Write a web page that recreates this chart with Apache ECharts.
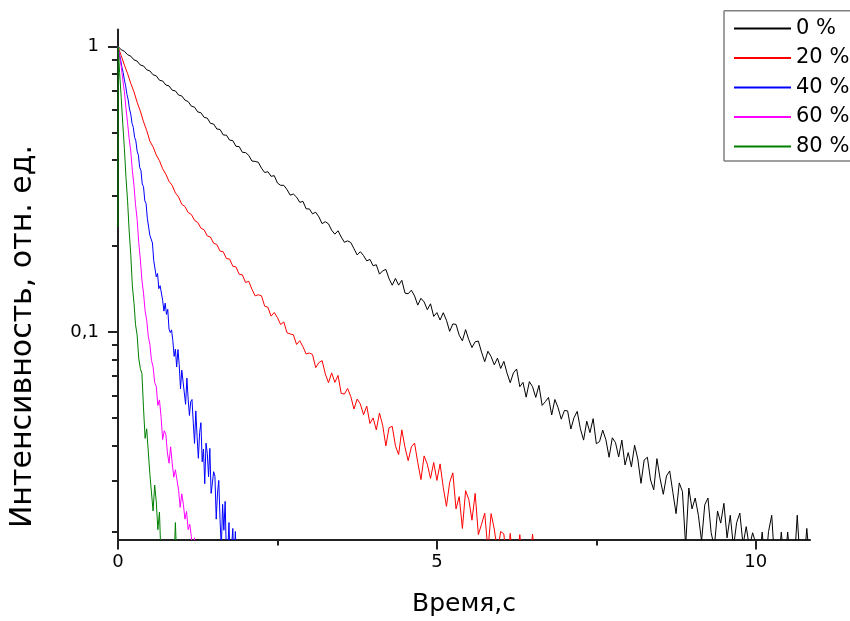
<!DOCTYPE html>
<html>
<head>
<meta charset="utf-8">
<script src="https://cdn.jsdelivr.net/npm/echarts@6/dist/echarts.min.js"></script>
<style>
html,body{margin:0;padding:0;background:#ffffff;}
#chart{width:850px;height:621px;}
</style>
</head>
<body>
<div id="chart"></div>
<script>
// ---- chart data ----
const seriesNames = ['0 %', '20 %', '40 %', '60 %', '80 %'];
const seriesColors = ['#000000', '#ff0000', '#0000ff', '#ff00ff', '#008000'];
const xAxisTitle = 'Время,с';
const yAxisTitle = 'Интенсивность, отн. ед.';
const xTickValues = [0, 5, 10];
const xMinorTicks = [2.5, 7.5];
const yTickValues = [0.1, 1];
const yTickLabels = ['0,1', '1'];
const yMinorTicks = [0.02, 0.03, 0.04, 0.05, 0.06, 0.07, 0.08, 0.09, 0.2, 0.3, 0.4, 0.5, 0.6, 0.7, 0.8, 0.9];

// time step of each sampled curve (s)
const step0 = 0.05, step20 = 0.05, step40 = 0.02, step60 = 0.025, step80 = 0.025;
const start80 = 0.025;

// 0 %  (t = 0 ... 10.85, step 0.05)
const curve0 = [
 1.000, 0.975, 0.962, 0.936, 0.925, 0.898, 0.889, 0.861, 0.855, 0.829, 0.821, 0.796, 0.789, 0.762, 0.757, 0.733, 0.728, 0.703, 0.699, 0.676, 0.671,
 0.649, 0.641, 0.618, 0.613, 0.590, 0.586, 0.565, 0.561, 0.538, 0.535, 0.514, 0.512, 0.490, 0.489, 0.470, 0.468, 0.447, 0.446, 0.426, 0.425,
 0.4157, 0.3970, 0.3958, 0.3930, 0.3747, 0.3618, 0.3643, 0.3510, 0.3528, 0.3325, 0.3265, 0.3263, 0.3155, 0.3015, 0.3042, 0.2968, 0.2845, 0.2867, 0.2700, 0.2698,
 0.2593, 0.2627, 0.2530, 0.2396, 0.2434, 0.2392, 0.2272, 0.2201, 0.2262, 0.2150, 0.2062, 0.2085, 0.2058, 0.1958, 0.1862, 0.1910, 0.1851, 0.1775, 0.1795, 0.1706,
 0.1720, 0.1594, 0.1637, 0.1656, 0.1536, 0.1458, 0.1540, 0.1459, 0.1517, 0.1368, 0.1361, 0.1401, 0.1337, 0.1242, 0.1312, 0.1274, 0.1197, 0.1255, 0.1134, 0.1169,
 0.1101, 0.1168, 0.1099, 0.1005, 0.1067, 0.1063, 0.0974, 0.0931, 0.1019, 0.0939, 0.0882, 0.0924, 0.0929, 0.0850, 0.0787, 0.0856, 0.0820, 0.0767, 0.0810, 0.0745,
 0.0789, 0.0717, 0.0664, 0.0719, 0.0742, 0.0643, 0.0666, 0.0591, 0.0670, 0.0643, 0.0590, 0.0650, 0.0553, 0.0570, 0.0590, 0.0512, 0.0580, 0.0543, 0.0495, 0.0531,
 0.0529, 0.0457, 0.0501, 0.0527, 0.0458, 0.0418, 0.0487, 0.0444, 0.0497, 0.0406, 0.0413, 0.0453, 0.0419, 0.0364, 0.0426, 0.0410, 0.0365, 0.0418, 0.0342, 0.0378,
 0.0337, 0.0401, 0.0359, 0.0295, 0.0356, 0.0364, 0.0303, 0.0280, 0.0360, 0.0306, 0.0270, 0.0313, 0.0326, 0.0274, 0.0231, 0.0296, 0.0276, 0.0178, 0.0284, 0.0240,
 0.0262, 0.0228, 0.0185, 0.0248, 0.0262, 0.0198, 0.0176, 0.0236, 0.0214, 0.0251, 0.0190, 0.0228, 0.0176, 0.0215, 0.0232, 0.0180, 0.0208, 0.0176, 0.0198, 0.0182,
 0.0150, 0.0199, 0.0150, 0.0200, 0.0228, 0.0150, 0.0150, 0.0199, 0.0150, 0.0199, 0.0150, 0.0150, 0.0228, 0.0150, 0.0150, 0.0205, 0.0150
];

// 20 %  (t = 0 ... 6.55, step 0.05)
const curve20 = [
 1.000, 0.929, 0.861, 0.804, 0.743, 0.694, 0.638, 0.594, 0.545, 0.508, 0.466, 0.445, 0.417, 0.398, 0.373, 0.357, 0.337, 0.326, 0.307, 0.297, 0.280,
 0.275, 0.262, 0.258, 0.246, 0.242, 0.231, 0.228, 0.217, 0.215, 0.2045, 0.2025, 0.1920, 0.1910, 0.1808, 0.1800, 0.1700, 0.1690, 0.1592, 0.1586, 0.1490,
 0.1505, 0.1412, 0.1338, 0.1350, 0.1338, 0.1231, 0.1221, 0.1136, 0.1170, 0.1123, 0.1062, 0.1084, 0.0993, 0.0984, 0.0978, 0.0904, 0.0932, 0.0888, 0.0837, 0.0844,
 0.0834, 0.0750, 0.0781, 0.0794, 0.0714, 0.0664, 0.0719, 0.0666, 0.0704, 0.0609, 0.0606, 0.0634, 0.0594, 0.0537, 0.0582, 0.0559, 0.0513, 0.0550, 0.0478, 0.0500,
 0.0454, 0.0520, 0.0471, 0.0399, 0.0462, 0.0467, 0.0399, 0.0372, 0.0454, 0.0394, 0.0354, 0.0396, 0.0408, 0.0349, 0.0304, 0.0368, 0.0344, 0.0307, 0.0349, 0.0302,
 0.0345, 0.0285, 0.0245, 0.0297, 0.0321, 0.0240, 0.0265, 0.0205, 0.0278, 0.0259, 0.0219, 0.0272, 0.0195, 0.0212, 0.0232, 0.0172, 0.0231, 0.0204, 0.0169, 0.0200,
 0.0196, 0.0150, 0.0197, 0.0150, 0.0150, 0.0195, 0.0150, 0.0150, 0.0150, 0.0196, 0.0150
];

// 40 %  (t = 0 ... 1.86, step 0.02)
const curve40 = [
 1.000, 0.945, 0.902, 0.849, 0.812, 0.763, 0.728, 0.680, 0.650, 0.604,
 0.580, 0.538, 0.521, 0.481, 0.467, 0.430, 0.416, 0.377, 0.368, 0.330,
 0.323, 0.288, 0.282, 0.250, 0.247, 0.218, 0.216, 0.205, 0.178, 0.180, 0.156,
 0.1603, 0.1418, 0.1453, 0.1456, 0.1292, 0.1183, 0.1262, 0.1152, 0.1201, 0.1024, 0.0995, 0.1017, 0.0932, 0.0821, 0.0870,
 0.0754, 0.0868, 0.0768, 0.0632, 0.0735, 0.0736, 0.0611, 0.0558, 0.0689, 0.0582, 0.0510, 0.0570, 0.0580, 0.0483, 0.0407,
 0.0529, 0.0430, 0.0361, 0.0444, 0.0481, 0.0351, 0.0389, 0.0294, 0.0408, 0.0376, 0.0311, 0.0391, 0.0272, 0.0296, 0.0324,
 0.0312, 0.0221, 0.0273, 0.0302, 0.0220, 0.0174, 0.0249, 0.0202, 0.0255, 0.0162, 0.0168, 0.0215, 0.0150, 0.0150, 0.0205, 0.0150, 0.0200, 0.0150
];

// 60 %  (t = 0 ... 1.225, step 0.025)
const curve60 = [
 1.000, 0.920, 0.853, 0.764, 0.695, 0.607, 0.540, 0.475, 0.430, 0.368,
 0.327, 0.279, 0.248, 0.206, 0.180, 0.152, 0.137, 0.1185, 0.1100, 0.0965,
 0.0905, 0.0795, 0.0755, 0.0665, 0.0645,
 0.0553, 0.0578, 0.0505, 0.0420, 0.0451, 0.0438, 0.0377, 0.0347, 0.0396, 0.0347,
 0.0310, 0.0329, 0.0325, 0.0279, 0.0243, 0.0271, 0.0249, 0.0221, 0.0235, 0.0203,
 0.0212, 0.0192, 0.0164, 0.0190, 0.0160
];

// 80 %  (first two points at the very start, then t = 0.025 ... 0.925, step 0.025)
const curve80Head = [[0, 0.233], [0.004, 1.0]];
const curve80 = [
 0.810, 0.664, 0.535, 0.439, 0.348, 0.288, 0.226, 0.187, 0.145, 0.127, 0.1060, 0.0975, 0.0810, 0.0745,
 0.0715, 0.0542, 0.0424, 0.0458, 0.0455, 0.0317, 0.0320, 0.0236, 0.0291, 0.0254, 0.0203, 0.0234, 0.0160, 0.0162,
 0.0150, 0.0150, 0.0150, 0.0150, 0.0150, 0.0150, 0.0150, 0.0215, 0.0150
];

// ---- build ----
function pairs(values, step, start) {
  return values.map(function (v, i) { return [+(start + i * step).toFixed(4), v]; });
}
const seriesData = [
  pairs(curve0, step0, 0),
  pairs(curve20, step20, 0),
  pairs(curve40, step40, 0),
  pairs(curve60, step60, 0),
  curve80Head.concat(pairs(curve80, step80, start80))
];

const FONT = 'DejaVu Sans';
const AXIS_COLOR = '#222222';
const X_MAX = 10.85;
const Y_MIN = 0.01875, Y_MAX = 1.147;

function yLabel(v) {
  for (let i = 0; i < yTickValues.length; i++) {
    if (Math.abs(Math.log10(v) - Math.log10(yTickValues[i])) < 1e-6) return yTickLabels[i];
  }
  return '';
}

const frameStyle = { stroke: '#7f7f7f', lineWidth: 1.5 };
const chart = echarts.init(document.getElementById('chart'), null, { renderer: 'canvas' });
chart.setOption({
  animation: false,
  backgroundColor: '#ffffff',
  grid: { left: 118, right: 40, top: 29.5, bottom: 81.5, containLabel: false, outerBoundsMode: 'none' },
  graphic: [
    { type: 'line', z: 10, silent: true, shape: { x1: 724, y1: 10.7, x2: 850, y2: 10.7 }, style: frameStyle },
    { type: 'line', z: 10, silent: true, shape: { x1: 724, y1: 10.7, x2: 724, y2: 161 }, style: frameStyle },
    { type: 'line', z: 10, silent: true, shape: { x1: 724, y1: 161, x2: 850, y2: 161 }, style: frameStyle }
  ],
  legend: {
    orient: 'vertical',
    left: 724, top: 10.7,
    padding: [7.3, 5, 7, 9],
    itemWidth: 57, itemHeight: 20, itemGap: 8.5,
    borderWidth: 0, borderColor: 'rgba(0,0,0,0)',
    backgroundColor: 'rgba(0,0,0,0)',
    itemStyle: { opacity: 0, borderWidth: 0 },
    textStyle: { fontFamily: FONT, fontSize: 21, color: '#000000' },
    data: seriesNames
  },
  xAxis: [
    {
      type: 'value', position: 'bottom', min: 0, max: X_MAX,
      name: xAxisTitle, nameLocation: 'middle', nameGap: 52,
      nameTextStyle: { fontFamily: FONT, fontSize: 25, color: '#000000' },
      axisLine: { show: true, onZero: false, lineStyle: { color: AXIS_COLOR, width: 2 } },
      axisTick: { show: true, customValues: xTickValues, length: 10, lineStyle: { color: AXIS_COLOR, width: 2 } },
      axisLabel: { show: true, customValues: xTickValues, margin: 14, fontFamily: FONT, fontSize: 18, color: '#000000' },
      splitLine: { show: false }
    },
    {
      type: 'value', position: 'bottom', min: 0, max: X_MAX,
      axisLine: { show: false },
      axisTick: { show: true, customValues: xMinorTicks, length: 6, lineStyle: { color: AXIS_COLOR, width: 2 } },
      axisLabel: { show: false },
      splitLine: { show: false }
    }
  ],
  yAxis: [
    {
      type: 'log', logBase: 10, position: 'left', min: Y_MIN, max: Y_MAX,
      name: yAxisTitle, nameLocation: 'middle', nameGap: 80,
      nameTextStyle: { fontFamily: FONT, fontSize: 30, color: '#000000', padding: [0, 104, 0, 0] },
      axisLine: { show: true, onZero: false, lineStyle: { color: AXIS_COLOR, width: 2 } },
      axisTick: { show: true, customValues: yTickValues, length: 10, lineStyle: { color: AXIS_COLOR, width: 2 } },
      axisLabel: { show: true, customValues: yTickValues, formatter: yLabel, margin: 19, fontFamily: FONT, fontSize: 18, color: '#000000' },
      splitLine: { show: false }
    },
    {
      type: 'log', logBase: 10, position: 'left', min: Y_MIN, max: Y_MAX,
      axisLine: { show: false },
      axisTick: { show: true, customValues: yMinorTicks, length: 6, lineStyle: { color: AXIS_COLOR, width: 2 } },
      axisLabel: { show: false },
      splitLine: { show: false }
    }
  ],
  series: seriesNames.map(function (name, i) {
    return {
      name: name,
      type: 'line',
      xAxisIndex: 0, yAxisIndex: 0,
      data: seriesData[i],
      showSymbol: false, symbol: 'none',
      clip: true,
      color: seriesColors[i],
      lineStyle: { color: seriesColors[i], width: 1 },
      emphasis: { disabled: true }
    };
  })
});
</script>
</body>
</html>
